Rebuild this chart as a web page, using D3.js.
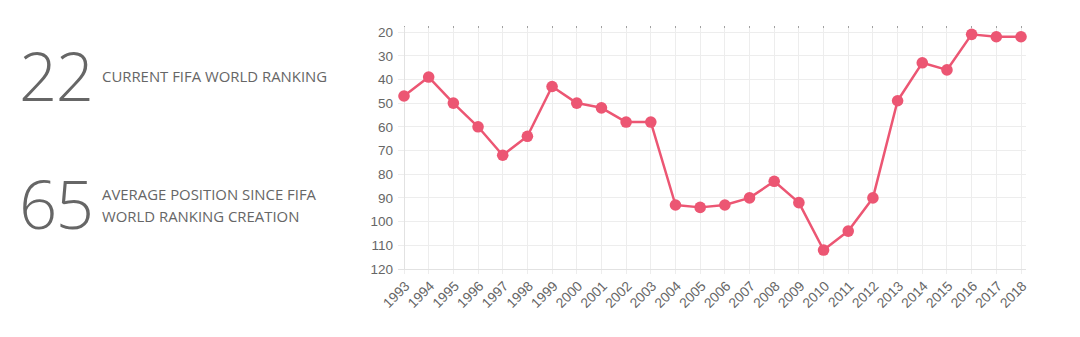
<!DOCTYPE html>
<html>
<head>
<meta charset="utf-8">
<script src="https://cdn.jsdelivr.net/npm/d3@7"></script>
<style>
  html, body { margin: 0; padding: 0; background: #ffffff; }
  svg { display: block; }
</style>
</head>
<body>
<svg id="chart" width="1080" height="337"></svg>
<script>
// FIFA world ranking by year (lower is better)
const years = ["1993","1994","1995","1996","1997","1998","1999","2000","2001","2002","2003","2004","2005",
               "2006","2007","2008","2009","2010","2011","2012","2013","2014","2015","2016","2017","2018"];
const ranking = [47, 39, 50, 60, 72, 64, 43, 50, 52, 58, 58, 93, 94,
                 93, 90, 83, 92, 112, 104, 90, 49, 33, 36, 21, 22, 22];
const yTicks = [20, 30, 40, 50, 60, 70, 80, 90, 100, 110, 120];

// Summary figures shown at the left
const statValues = ["22", "65"];
const statLabels = [["CURRENT FIFA WORLD RANKING"], ["AVERAGE POSITION SINCE FIFA", "WORLD RANKING CREATION"]];

const svg = d3.select("#chart");
const lineColor = "#ec5673";
const gridColor = "#ededed";
const textColor = "#666666";

// Left-hand stats
const statG = svg.append("g");
const statY = [101, 229];
const labelY = [[82], [200, 222]];
statValues.forEach((v, i) => {
  statG.append("text")
    .attr("x", 19).attr("y", statY[i])
    .attr("font-family", "'Open Sans', sans-serif")
    .attr("font-weight", 300)
    .attr("font-size", 67)
    .attr("fill", textColor)
    .attr("letter-spacing", -1.5)
    .text(v);
  statLabels[i].forEach((line, j) => {
    statG.append("text")
      .attr("x", 102).attr("y", labelY[i][j])
      .attr("font-family", "'Open Sans', sans-serif")
      .attr("font-weight", 400)
      .attr("font-size", 14.9)
      .attr("fill", textColor)
      .text(line);
  });
});

// Chart area
const plotLeft = 404, plotRight = 1021, plotTop = 32, plotBottom = 269;
const x = d3.scalePoint().domain(years).range([plotLeft, plotRight]);
const y = d3.scaleLinear().domain([20, 120]).range([plotTop, plotBottom]);

const g = svg.append("g");

// Horizontal grid lines
g.append("g").selectAll("line").data(yTicks).join("line")
  .attr("x1", plotLeft - 6).attr("x2", plotRight + 5)
  .attr("y1", d => y(d)).attr("y2", d => y(d))
  .attr("stroke", gridColor).attr("stroke-width", 1)
  .attr("shape-rendering", "crispEdges");

// Vertical grid lines
g.append("g").selectAll("line").data(years).join("line")
  .attr("x1", d => x(d)).attr("x2", d => x(d))
  .attr("y1", plotTop - 5).attr("y2", plotBottom + 5)
  .attr("stroke", gridColor).attr("stroke-width", 1)
  .attr("shape-rendering", "crispEdges");

// Small tick marks along the top edge
g.append("g").selectAll("line").data(years).join("line")
  .attr("x1", d => x(d)).attr("x2", d => x(d))
  .attr("y1", plotTop - 6).attr("y2", plotTop - 4)
  .attr("stroke", "#a0a0a0").attr("stroke-width", 1)
  .attr("shape-rendering", "crispEdges");

// Axis lines
g.append("line").attr("x1", plotLeft).attr("x2", plotLeft).attr("y1", plotTop - 5).attr("y2", plotBottom)
  .attr("stroke", "#e2e2e2").attr("shape-rendering", "crispEdges");
g.append("line").attr("x1", plotLeft - 6).attr("x2", plotRight + 5).attr("y1", plotBottom).attr("y2", plotBottom)
  .attr("stroke", "#e2e2e2").attr("shape-rendering", "crispEdges");

// Y axis labels
const yAxis = d3.axisLeft(y).tickValues(yTicks).tickSize(0).tickPadding(11);
const yAxisG = svg.append("g").attr("transform", `translate(${plotLeft},0)`).call(yAxis);
yAxisG.select(".domain").remove();
yAxisG.selectAll("text")
  .attr("font-family", "'Liberation Sans', Arial, sans-serif")
  .attr("font-size", 13.5)
  .attr("fill", textColor);

// X axis labels, rotated
const xAxis = d3.axisBottom(x).tickSize(0).tickPadding(0);
const xAxisG = svg.append("g").attr("transform", `translate(0,${plotBottom})`).call(xAxis);
xAxisG.select(".domain").remove();
xAxisG.selectAll("text")
  .attr("font-family", "'Liberation Sans', Arial, sans-serif")
  .attr("font-size", 13.8)
  .attr("fill", textColor)
  .attr("text-anchor", "end")
  .attr("dy", "0")
  .attr("transform", "translate(6,18) rotate(-45)");

// Ranking line
const line = d3.line().x((d, i) => x(years[i])).y(d => y(d));
svg.append("path")
  .datum(ranking)
  .attr("d", line)
  .attr("fill", "none")
  .attr("stroke", lineColor)
  .attr("stroke-width", 2.5)
  .attr("stroke-linejoin", "round");

// Points
svg.append("g").selectAll("circle").data(ranking).join("circle")
  .attr("cx", (d, i) => x(years[i]))
  .attr("cy", d => y(d))
  .attr("r", 5.8)
  .attr("fill", lineColor);
</script>
</body>
</html>
